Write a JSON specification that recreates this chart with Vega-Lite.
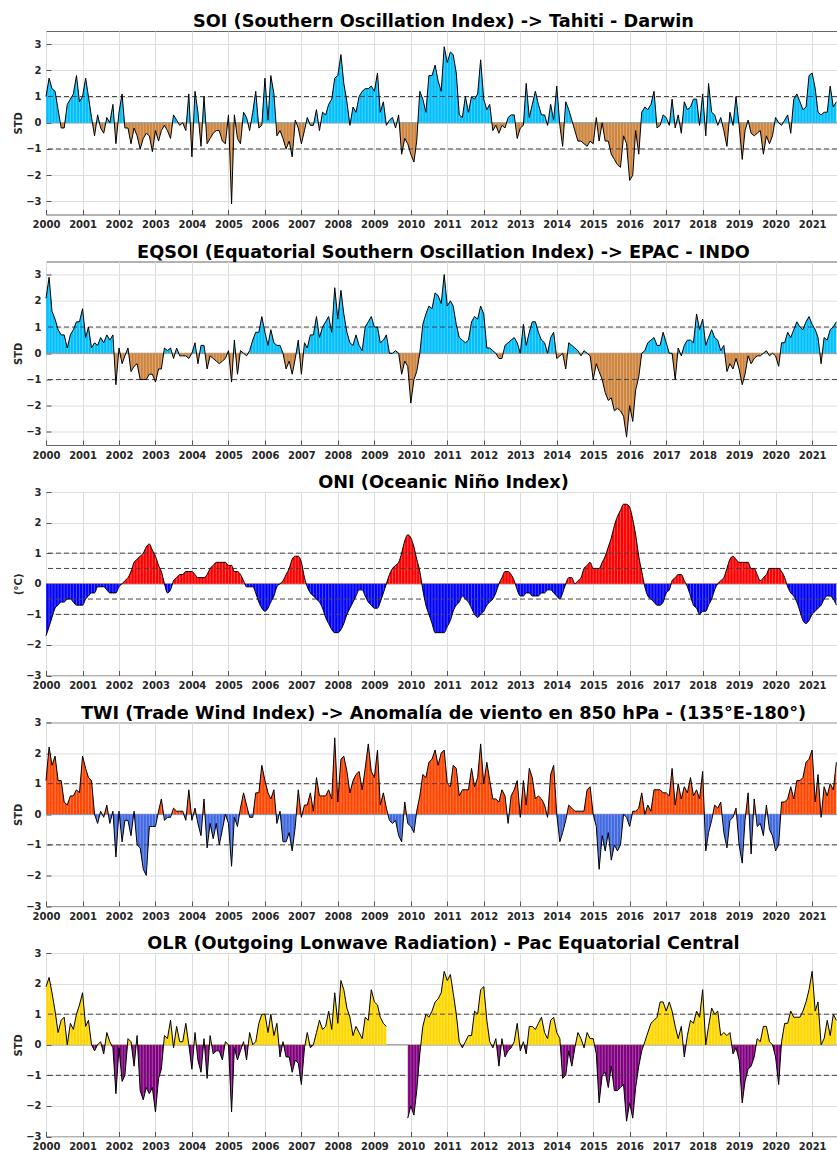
{
"$schema": "https://vega.github.io/schema/vega-lite/v6.json",
"background": "white",
"padding": {"left": 12, "top": 12, "right": 0, "bottom": 0},
"autosize": {"type": "pad"},
"data": {"values": [
{"fecha":"2000-01","soi":1.0,"eqsoi":2.1,"oni":-1.7,"twi":1.1,"olr":1.9},
{"fecha":"2000-02","soi":1.7,"eqsoi":2.9,"oni":-1.4,"twi":2.2,"olr":2.2},
{"fecha":"2000-03","soi":1.3,"eqsoi":1.6,"oni":-1.1,"twi":1.6,"olr":1.7},
{"fecha":"2000-04","soi":1.2,"eqsoi":1.3,"oni":-0.8,"twi":1.9,"olr":1.1},
{"fecha":"2000-05","soi":0.5,"eqsoi":0.9,"oni":-0.7,"twi":1.1,"olr":0.4},
{"fecha":"2000-06","soi":-0.2,"eqsoi":0.7,"oni":-0.6,"twi":1.1,"olr":0.8},
{"fecha":"2000-07","soi":-0.2,"eqsoi":0.7,"oni":-0.6,"twi":0.4,"olr":0.9},
{"fecha":"2000-08","soi":0.7,"eqsoi":0.2,"oni":-0.5,"twi":0.3,"olr":0.0},
{"fecha":"2000-09","soi":0.9,"eqsoi":0.7,"oni":-0.5,"twi":0.6,"olr":0.7},
{"fecha":"2000-10","soi":1.1,"eqsoi":0.9,"oni":-0.6,"twi":0.6,"olr":0.5},
{"fecha":"2000-11","soi":1.8,"eqsoi":1.2,"oni":-0.7,"twi":0.8,"olr":1.0},
{"fecha":"2000-12","soi":0.8,"eqsoi":1.2,"oni":-0.7,"twi":0.7,"olr":1.3},
{"fecha":"2001-01","soi":1.0,"eqsoi":1.7,"oni":-0.7,"twi":1.9,"olr":1.7},
{"fecha":"2001-02","soi":1.7,"eqsoi":0.6,"oni":-0.5,"twi":1.5,"olr":0.6},
{"fecha":"2001-03","soi":1.0,"eqsoi":1.0,"oni":-0.4,"twi":1.2,"olr":0.8},
{"fecha":"2001-04","soi":0.2,"eqsoi":0.2,"oni":-0.3,"twi":1.1,"olr":0.0},
{"fecha":"2001-05","soi":-0.5,"eqsoi":0.4,"oni":-0.3,"twi":0.0,"olr":-0.2},
{"fecha":"2001-06","soi":0.3,"eqsoi":0.3,"oni":-0.1,"twi":-0.3,"olr":0.0},
{"fecha":"2001-07","soi":-0.2,"eqsoi":0.6,"oni":-0.1,"twi":0.1,"olr":0.1},
{"fecha":"2001-08","soi":-0.4,"eqsoi":0.4,"oni":-0.1,"twi":-0.1,"olr":-0.3},
{"fecha":"2001-09","soi":0.2,"eqsoi":0.7,"oni":-0.2,"twi":0.3,"olr":0.4},
{"fecha":"2001-10","soi":0.0,"eqsoi":0.5,"oni":-0.3,"twi":-0.3,"olr":0.1},
{"fecha":"2001-11","soi":0.7,"eqsoi":0.7,"oni":-0.3,"twi":0.1,"olr":-0.1},
{"fecha":"2001-12","soi":-0.8,"eqsoi":-1.2,"oni":-0.3,"twi":-1.4,"olr":-1.6},
{"fecha":"2002-01","soi":0.4,"eqsoi":0.2,"oni":-0.1,"twi":0.1,"olr":-0.1},
{"fecha":"2002-02","soi":1.1,"eqsoi":-0.4,"oni":0.0,"twi":-0.9,"olr":-1.2},
{"fecha":"2002-03","soi":-0.2,"eqsoi":-0.1,"oni":0.1,"twi":-0.2,"olr":-1.0},
{"fecha":"2002-04","soi":-0.2,"eqsoi":0.2,"oni":0.2,"twi":-0.2,"olr":0.2},
{"fecha":"2002-05","soi":-0.8,"eqsoi":-0.7,"oni":0.4,"twi":-0.7,"olr":0.1},
{"fecha":"2002-06","soi":-0.2,"eqsoi":-0.5,"oni":0.7,"twi":0.1,"olr":-0.7},
{"fecha":"2002-07","soi":-0.5,"eqsoi":-0.4,"oni":0.8,"twi":-1.0,"olr":0.3},
{"fecha":"2002-08","soi":-1.0,"eqsoi":-1.0,"oni":0.9,"twi":-1.1,"olr":-1.5},
{"fecha":"2002-09","soi":-0.6,"eqsoi":-1.0,"oni":1.0,"twi":-1.8,"olr":-1.8},
{"fecha":"2002-10","soi":-0.4,"eqsoi":-1.0,"oni":1.2,"twi":-2.0,"olr":-1.4},
{"fecha":"2002-11","soi":-0.5,"eqsoi":-0.8,"oni":1.3,"twi":-0.4,"olr":-1.6},
{"fecha":"2002-12","soi":-1.1,"eqsoi":-0.8,"oni":1.1,"twi":-0.4,"olr":-1.4},
{"fecha":"2003-01","soi":-0.3,"eqsoi":-1.1,"oni":0.9,"twi":-0.4,"olr":-2.2},
{"fecha":"2003-02","soi":-0.7,"eqsoi":-0.6,"oni":0.6,"twi":0.1,"olr":-1.1},
{"fecha":"2003-03","soi":-0.3,"eqsoi":-0.6,"oni":0.4,"twi":0.5,"olr":-0.8},
{"fecha":"2003-04","soi":-0.1,"eqsoi":0.2,"oni":0.0,"twi":-0.2,"olr":0.3},
{"fecha":"2003-05","soi":-0.3,"eqsoi":0.1,"oni":-0.3,"twi":-0.1,"olr":0.2},
{"fecha":"2003-06","soi":-0.6,"eqsoi":0.2,"oni":-0.2,"twi":-0.1,"olr":0.8},
{"fecha":"2003-07","soi":0.3,"eqsoi":-0.2,"oni":0.1,"twi":0.2,"olr":-0.1},
{"fecha":"2003-08","soi":0.1,"eqsoi":0.2,"oni":0.2,"twi":0.1,"olr":0.6},
{"fecha":"2003-09","soi":-0.1,"eqsoi":-0.1,"oni":0.3,"twi":0.1,"olr":0.1},
{"fecha":"2003-10","soi":0.0,"eqsoi":-0.1,"oni":0.3,"twi":0.1,"olr":0.1},
{"fecha":"2003-11","soi":-0.3,"eqsoi":-0.1,"oni":0.4,"twi":-0.2,"olr":0.7},
{"fecha":"2003-12","soi":1.1,"eqsoi":-0.2,"oni":0.4,"twi":0.8,"olr":0.0},
{"fecha":"2004-01","soi":-1.3,"eqsoi":0.0,"oni":0.4,"twi":-0.2,"olr":-0.8},
{"fecha":"2004-02","soi":1.2,"eqsoi":0.4,"oni":0.3,"twi":0.2,"olr":0.4},
{"fecha":"2004-03","soi":0.4,"eqsoi":-0.4,"oni":0.2,"twi":-0.3,"olr":-0.5},
{"fecha":"2004-04","soi":-0.9,"eqsoi":0.3,"oni":0.2,"twi":-0.7,"olr":-0.9},
{"fecha":"2004-05","soi":1.0,"eqsoi":0.3,"oni":0.2,"twi":0.5,"olr":0.2},
{"fecha":"2004-06","soi":-0.8,"eqsoi":-0.6,"oni":0.3,"twi":-1.1,"olr":-1.1},
{"fecha":"2004-07","soi":-0.6,"eqsoi":-0.1,"oni":0.5,"twi":-0.3,"olr":0.3},
{"fecha":"2004-08","soi":-0.4,"eqsoi":-0.2,"oni":0.6,"twi":-0.8,"olr":-0.3},
{"fecha":"2004-09","soi":-0.3,"eqsoi":-0.3,"oni":0.7,"twi":-0.3,"olr":-0.2},
{"fecha":"2004-10","soi":-0.3,"eqsoi":-0.4,"oni":0.7,"twi":-1.0,"olr":-0.2},
{"fecha":"2004-11","soi":-0.7,"eqsoi":-0.3,"oni":0.7,"twi":-0.5,"olr":-0.5},
{"fecha":"2004-12","soi":-0.8,"eqsoi":-0.2,"oni":0.7,"twi":0.0,"olr":0.1},
{"fecha":"2005-01","soi":0.3,"eqsoi":0.1,"oni":0.6,"twi":-0.3,"olr":0.0},
{"fecha":"2005-02","soi":-3.1,"eqsoi":-1.1,"oni":0.6,"twi":-1.7,"olr":-2.2},
{"fecha":"2005-03","soi":0.3,"eqsoi":0.5,"oni":0.4,"twi":-0.1,"olr":-0.1},
{"fecha":"2005-04","soi":-0.6,"eqsoi":-0.8,"oni":0.4,"twi":-0.4,"olr":-0.5},
{"fecha":"2005-05","soi":-0.8,"eqsoi":0.1,"oni":0.3,"twi":0.2,"olr":-0.2},
{"fecha":"2005-06","soi":0.4,"eqsoi":0.0,"oni":0.1,"twi":0.7,"olr":0.1},
{"fecha":"2005-07","soi":0.2,"eqsoi":-0.1,"oni":-0.1,"twi":0.3,"olr":-0.5},
{"fecha":"2005-08","soi":-0.3,"eqsoi":0.1,"oni":-0.1,"twi":-0.1,"olr":0.4},
{"fecha":"2005-09","soi":0.4,"eqsoi":0.5,"oni":-0.1,"twi":-0.1,"olr":0.0},
{"fecha":"2005-10","soi":1.2,"eqsoi":0.8,"oni":-0.3,"twi":0.7,"olr":0.1},
{"fecha":"2005-11","soi":-0.2,"eqsoi":0.8,"oni":-0.6,"twi":0.7,"olr":0.7},
{"fecha":"2005-12","soi":-0.1,"eqsoi":1.4,"oni":-0.8,"twi":1.6,"olr":1.0},
{"fecha":"2006-01","soi":1.7,"eqsoi":0.8,"oni":-0.9,"twi":1.1,"olr":1.0},
{"fecha":"2006-02","soi":0.1,"eqsoi":0.3,"oni":-0.8,"twi":0.7,"olr":0.4},
{"fecha":"2006-03","soi":1.8,"eqsoi":0.9,"oni":-0.6,"twi":0.5,"olr":1.0},
{"fecha":"2006-04","soi":1.1,"eqsoi":0.4,"oni":-0.4,"twi":0.8,"olr":0.3},
{"fecha":"2006-05","soi":-0.5,"eqsoi":0.3,"oni":-0.1,"twi":-0.3,"olr":0.7},
{"fecha":"2006-06","soi":-0.3,"eqsoi":0.3,"oni":0.0,"twi":0.1,"olr":-0.4},
{"fecha":"2006-07","soi":-0.6,"eqsoi":0.0,"oni":0.1,"twi":-0.9,"olr":0.1},
{"fecha":"2006-08","soi":-1.0,"eqsoi":-0.6,"oni":0.3,"twi":-0.9,"olr":-0.4},
{"fecha":"2006-09","soi":-0.7,"eqsoi":-0.3,"oni":0.5,"twi":-0.6,"olr":-0.4},
{"fecha":"2006-10","soi":-1.3,"eqsoi":-0.8,"oni":0.8,"twi":-1.2,"olr":-0.9},
{"fecha":"2006-11","soi":0.1,"eqsoi":-0.2,"oni":0.9,"twi":-0.4,"olr":-0.5},
{"fecha":"2006-12","soi":-0.2,"eqsoi":0.5,"oni":0.9,"twi":0.8,"olr":-0.6},
{"fecha":"2007-01","soi":-0.8,"eqsoi":-0.8,"oni":0.7,"twi":-0.1,"olr":-1.3},
{"fecha":"2007-02","soi":-0.3,"eqsoi":0.4,"oni":0.2,"twi":0.3,"olr":-0.1},
{"fecha":"2007-03","soi":0.2,"eqsoi":0.2,"oni":-0.1,"twi":0.3,"olr":0.4},
{"fecha":"2007-04","soi":-0.1,"eqsoi":0.7,"oni":-0.3,"twi":0.7,"olr":-0.1},
{"fecha":"2007-05","soi":-0.1,"eqsoi":0.7,"oni":-0.4,"twi":0.1,"olr":0.0},
{"fecha":"2007-06","soi":0.5,"eqsoi":1.4,"oni":-0.5,"twi":1.2,"olr":0.4},
{"fecha":"2007-07","soi":-0.3,"eqsoi":0.6,"oni":-0.6,"twi":0.6,"olr":0.8},
{"fecha":"2007-08","soi":0.4,"eqsoi":1.0,"oni":-0.8,"twi":0.6,"olr":0.5},
{"fecha":"2007-09","soi":0.3,"eqsoi":1.2,"oni":-1.1,"twi":0.6,"olr":0.6},
{"fecha":"2007-10","soi":0.7,"eqsoi":1.4,"oni":-1.3,"twi":0.8,"olr":1.1},
{"fecha":"2007-11","soi":0.9,"eqsoi":0.8,"oni":-1.5,"twi":0.5,"olr":0.5},
{"fecha":"2007-12","soi":1.7,"eqsoi":2.5,"oni":-1.6,"twi":2.5,"olr":1.7},
{"fecha":"2008-01","soi":1.8,"eqsoi":1.3,"oni":-1.6,"twi":0.4,"olr":0.7},
{"fecha":"2008-02","soi":2.6,"eqsoi":2.4,"oni":-1.5,"twi":1.8,"olr":2.1},
{"fecha":"2008-03","soi":1.5,"eqsoi":1.5,"oni":-1.3,"twi":1.9,"olr":1.8},
{"fecha":"2008-04","soi":0.8,"eqsoi":0.8,"oni":-1.0,"twi":1.4,"olr":1.2},
{"fecha":"2008-05","soi":-0.1,"eqsoi":0.4,"oni":-0.8,"twi":0.7,"olr":0.9},
{"fecha":"2008-06","soi":0.6,"eqsoi":0.3,"oni":-0.6,"twi":1.1,"olr":0.3},
{"fecha":"2008-07","soi":0.4,"eqsoi":0.7,"oni":-0.4,"twi":1.3,"olr":0.6},
{"fecha":"2008-08","soi":1.0,"eqsoi":0.3,"oni":-0.2,"twi":1.4,"olr":0.4},
{"fecha":"2008-09","soi":1.2,"eqsoi":0.1,"oni":-0.2,"twi":0.8,"olr":0.2},
{"fecha":"2008-10","soi":1.3,"eqsoi":1.0,"oni":-0.4,"twi":1.5,"olr":0.9},
{"fecha":"2008-11","soi":1.3,"eqsoi":1.2,"oni":-0.6,"twi":2.3,"olr":0.8},
{"fecha":"2008-12","soi":1.4,"eqsoi":1.4,"oni":-0.7,"twi":1.4,"olr":1.8},
{"fecha":"2009-01","soi":1.2,"eqsoi":1.0,"oni":-0.8,"twi":1.2,"olr":1.4},
{"fecha":"2009-02","soi":1.9,"eqsoi":1.0,"oni":-0.8,"twi":2.1,"olr":1.3},
{"fecha":"2009-03","soi":0.4,"eqsoi":0.4,"oni":-0.6,"twi":0.3,"olr":0.9},
{"fecha":"2009-04","soi":0.8,"eqsoi":0.5,"oni":-0.3,"twi":0.7,"olr":0.7},
{"fecha":"2009-05","soi":-0.1,"eqsoi":0.7,"oni":0.0,"twi":0.2,"olr":0.6},
{"fecha":"2009-06","soi":0.1,"eqsoi":0.0,"oni":0.3,"twi":-0.2,"olr":null},
{"fecha":"2009-07","soi":0.2,"eqsoi":0.0,"oni":0.5,"twi":-0.3,"olr":null},
{"fecha":"2009-08","soi":-0.2,"eqsoi":0.1,"oni":0.6,"twi":-0.2,"olr":null},
{"fecha":"2009-09","soi":0.3,"eqsoi":0.0,"oni":0.7,"twi":-0.7,"olr":null},
{"fecha":"2009-10","soi":-1.2,"eqsoi":-0.8,"oni":1.0,"twi":-0.9,"olr":null},
{"fecha":"2009-11","soi":-0.6,"eqsoi":-0.3,"oni":1.4,"twi":0.4,"olr":null},
{"fecha":"2009-12","soi":-0.8,"eqsoi":-0.5,"oni":1.6,"twi":-0.3,"olr":-2.4},
{"fecha":"2010-01","soi":-1.2,"eqsoi":-1.9,"oni":1.5,"twi":-0.4,"olr":-2.0},
{"fecha":"2010-02","soi":-1.5,"eqsoi":-1.0,"oni":1.2,"twi":-0.6,"olr":-2.3},
{"fecha":"2010-03","soi":-0.7,"eqsoi":-0.7,"oni":0.8,"twi":0.1,"olr":-1.5},
{"fecha":"2010-04","soi":1.2,"eqsoi":0.0,"oni":0.4,"twi":0.6,"olr":-0.3},
{"fecha":"2010-05","soi":0.9,"eqsoi":1.1,"oni":-0.2,"twi":1.3,"olr":0.6},
{"fecha":"2010-06","soi":0.4,"eqsoi":1.5,"oni":-0.7,"twi":1.2,"olr":1.0},
{"fecha":"2010-07","soi":1.8,"eqsoi":1.8,"oni":-1.0,"twi":1.7,"olr":0.9},
{"fecha":"2010-08","soi":1.8,"eqsoi":1.7,"oni":-1.3,"twi":1.8,"olr":1.1},
{"fecha":"2010-09","soi":2.2,"eqsoi":2.3,"oni":-1.6,"twi":2.1,"olr":1.4},
{"fecha":"2010-10","soi":1.6,"eqsoi":2.2,"oni":-1.6,"twi":1.6,"olr":1.5},
{"fecha":"2010-11","soi":1.2,"eqsoi":1.9,"oni":-1.6,"twi":2.0,"olr":1.7},
{"fecha":"2010-12","soi":2.9,"eqsoi":3.0,"oni":-1.6,"twi":2.1,"olr":2.4},
{"fecha":"2011-01","soi":2.3,"eqsoi":1.8,"oni":-1.4,"twi":1.0,"olr":2.1},
{"fecha":"2011-02","soi":2.7,"eqsoi":2.0,"oni":-1.2,"twi":0.9,"olr":2.3},
{"fecha":"2011-03","soi":2.6,"eqsoi":1.8,"oni":-0.9,"twi":1.6,"olr":1.7},
{"fecha":"2011-04","soi":1.9,"eqsoi":1.1,"oni":-0.7,"twi":1.5,"olr":1.0},
{"fecha":"2011-05","soi":0.3,"eqsoi":0.6,"oni":-0.6,"twi":0.6,"olr":0.1},
{"fecha":"2011-06","soi":0.2,"eqsoi":0.5,"oni":-0.4,"twi":0.8,"olr":-0.1},
{"fecha":"2011-07","soi":1.0,"eqsoi":0.4,"oni":-0.5,"twi":0.8,"olr":0.1},
{"fecha":"2011-08","soi":0.4,"eqsoi":0.5,"oni":-0.6,"twi":0.8,"olr":0.3},
{"fecha":"2011-09","soi":1.0,"eqsoi":1.2,"oni":-0.8,"twi":1.5,"olr":0.3},
{"fecha":"2011-10","soi":0.9,"eqsoi":1.4,"oni":-1.0,"twi":0.9,"olr":1.1},
{"fecha":"2011-11","soi":1.1,"eqsoi":1.3,"oni":-1.1,"twi":1.2,"olr":1.0},
{"fecha":"2011-12","soi":2.4,"eqsoi":1.8,"oni":-1.0,"twi":2.3,"olr":1.8},
{"fecha":"2012-01","soi":0.9,"eqsoi":1.5,"oni":-0.9,"twi":1.0,"olr":1.9},
{"fecha":"2012-02","soi":0.5,"eqsoi":0.2,"oni":-0.7,"twi":1.7,"olr":0.8},
{"fecha":"2012-03","soi":0.7,"eqsoi":0.2,"oni":-0.6,"twi":1.1,"olr":0.1},
{"fecha":"2012-04","soi":-0.3,"eqsoi":0.1,"oni":-0.5,"twi":0.5,"olr":-0.1},
{"fecha":"2012-05","soi":-0.1,"eqsoi":0.0,"oni":-0.3,"twi":0.5,"olr":0.2},
{"fecha":"2012-06","soi":-0.4,"eqsoi":-0.2,"oni":0.0,"twi":0.4,"olr":-0.7},
{"fecha":"2012-07","soi":-0.1,"eqsoi":-0.2,"oni":0.2,"twi":0.8,"olr":0.2},
{"fecha":"2012-08","soi":-0.2,"eqsoi":0.3,"oni":0.4,"twi":0.6,"olr":-0.4},
{"fecha":"2012-09","soi":0.2,"eqsoi":0.4,"oni":0.4,"twi":-0.3,"olr":-0.2},
{"fecha":"2012-10","soi":0.3,"eqsoi":0.5,"oni":0.3,"twi":0.6,"olr":-0.1},
{"fecha":"2012-11","soi":0.3,"eqsoi":0.6,"oni":0.1,"twi":0.8,"olr":0.1},
{"fecha":"2012-12","soi":-0.6,"eqsoi":0.4,"oni":-0.2,"twi":1.1,"olr":0.7},
{"fecha":"2013-01","soi":-0.2,"eqsoi":0.0,"oni":-0.4,"twi":-0.1,"olr":-0.2},
{"fecha":"2013-02","soi":-0.1,"eqsoi":1.1,"oni":-0.4,"twi":1.1,"olr":0.1},
{"fecha":"2013-03","soi":1.5,"eqsoi":0.3,"oni":-0.3,"twi":0.3,"olr":-0.3},
{"fecha":"2013-04","soi":0.2,"eqsoi":0.8,"oni":-0.3,"twi":1.5,"olr":0.6},
{"fecha":"2013-05","soi":0.7,"eqsoi":1.2,"oni":-0.4,"twi":1.2,"olr":0.6},
{"fecha":"2013-06","soi":1.2,"eqsoi":1.2,"oni":-0.4,"twi":0.5,"olr":0.5},
{"fecha":"2013-07","soi":0.7,"eqsoi":0.8,"oni":-0.4,"twi":0.6,"olr":0.7},
{"fecha":"2013-08","soi":0.3,"eqsoi":0.5,"oni":-0.3,"twi":0.5,"olr":0.9},
{"fecha":"2013-09","soi":0.3,"eqsoi":0.4,"oni":-0.3,"twi":0.3,"olr":0.4},
{"fecha":"2013-10","soi":-0.1,"eqsoi":0.0,"oni":-0.2,"twi":-0.1,"olr":0.2},
{"fecha":"2013-11","soi":0.7,"eqsoi":0.6,"oni":-0.2,"twi":1.3,"olr":0.8},
{"fecha":"2013-12","soi":0.1,"eqsoi":0.8,"oni":-0.3,"twi":1.6,"olr":0.9},
{"fecha":"2014-01","soi":1.4,"eqsoi":-0.2,"oni":-0.4,"twi":0.0,"olr":0.4},
{"fecha":"2014-02","soi":-0.1,"eqsoi":-0.1,"oni":-0.5,"twi":-0.9,"olr":0.2},
{"fecha":"2014-03","soi":-0.9,"eqsoi":0.0,"oni":-0.3,"twi":-0.6,"olr":-1.1},
{"fecha":"2014-04","soi":0.8,"eqsoi":-0.6,"oni":0.0,"twi":-0.2,"olr":-1.0},
{"fecha":"2014-05","soi":0.5,"eqsoi":0.4,"oni":0.2,"twi":0.3,"olr":-0.2},
{"fecha":"2014-06","soi":0.1,"eqsoi":0.3,"oni":0.2,"twi":0.2,"olr":-0.7},
{"fecha":"2014-07","soi":-0.3,"eqsoi":0.2,"oni":0.0,"twi":0.1,"olr":-0.1},
{"fecha":"2014-08","soi":-0.7,"eqsoi":0.1,"oni":0.1,"twi":0.1,"olr":0.4},
{"fecha":"2014-09","soi":-0.7,"eqsoi":-0.1,"oni":0.2,"twi":0.1,"olr":0.2},
{"fecha":"2014-10","soi":-0.8,"eqsoi":0.1,"oni":0.5,"twi":0.1,"olr":-0.1},
{"fecha":"2014-11","soi":-0.9,"eqsoi":0.0,"oni":0.6,"twi":0.8,"olr":0.4},
{"fecha":"2014-12","soi":-0.7,"eqsoi":-0.1,"oni":0.7,"twi":0.9,"olr":0.2},
{"fecha":"2015-01","soi":-0.8,"eqsoi":-1.0,"oni":0.5,"twi":0.0,"olr":0.2},
{"fecha":"2015-02","soi":0.2,"eqsoi":-0.4,"oni":0.5,"twi":-0.4,"olr":-0.3},
{"fecha":"2015-03","soi":-0.7,"eqsoi":-0.7,"oni":0.5,"twi":-1.8,"olr":-1.9},
{"fecha":"2015-04","soi":0.0,"eqsoi":-1.0,"oni":0.7,"twi":-0.7,"olr":-1.0},
{"fecha":"2015-05","soi":-0.7,"eqsoi":-1.5,"oni":0.9,"twi":-1.2,"olr":-0.9},
{"fecha":"2015-06","soi":-0.7,"eqsoi":-1.8,"oni":1.2,"twi":-0.6,"olr":-1.4},
{"fecha":"2015-07","soi":-1.2,"eqsoi":-1.7,"oni":1.5,"twi":-1.5,"olr":-0.7},
{"fecha":"2015-08","soi":-1.4,"eqsoi":-2.2,"oni":1.9,"twi":-1.0,"olr":-1.5},
{"fecha":"2015-09","soi":-1.6,"eqsoi":-2.1,"oni":2.2,"twi":-1.2,"olr":-1.5},
{"fecha":"2015-10","soi":-1.7,"eqsoi":-2.2,"oni":2.4,"twi":-1.0,"olr":-1.4},
{"fecha":"2015-11","soi":-0.5,"eqsoi":-2.4,"oni":2.6,"twi":0.0,"olr":-1.3},
{"fecha":"2015-12","soi":-0.8,"eqsoi":-3.2,"oni":2.6,"twi":-0.1,"olr":-2.5},
{"fecha":"2016-01","soi":-2.2,"eqsoi":-2.0,"oni":2.5,"twi":-0.4,"olr":-1.9},
{"fecha":"2016-02","soi":-2.0,"eqsoi":-2.6,"oni":2.1,"twi":0.1,"olr":-2.4},
{"fecha":"2016-03","soi":-0.3,"eqsoi":-1.4,"oni":1.6,"twi":0.1,"olr":-1.4},
{"fecha":"2016-04","soi":-1.2,"eqsoi":-0.9,"oni":0.9,"twi":0.2,"olr":-0.7},
{"fecha":"2016-05","soi":0.4,"eqsoi":0.0,"oni":0.4,"twi":0.7,"olr":-0.2},
{"fecha":"2016-06","soi":0.6,"eqsoi":0.1,"oni":-0.1,"twi":0.0,"olr":0.1},
{"fecha":"2016-07","soi":0.5,"eqsoi":0.4,"oni":-0.4,"twi":0.3,"olr":0.4},
{"fecha":"2016-08","soi":0.7,"eqsoi":0.5,"oni":-0.5,"twi":0.1,"olr":0.7},
{"fecha":"2016-09","soi":1.2,"eqsoi":0.6,"oni":-0.6,"twi":0.8,"olr":0.8},
{"fecha":"2016-10","soi":-0.2,"eqsoi":0.3,"oni":-0.7,"twi":0.8,"olr":0.9},
{"fecha":"2016-11","soi":-0.1,"eqsoi":0.3,"oni":-0.7,"twi":0.8,"olr":1.4},
{"fecha":"2016-12","soi":0.3,"eqsoi":0.8,"oni":-0.6,"twi":0.7,"olr":1.4},
{"fecha":"2017-01","soi":0.2,"eqsoi":0.4,"oni":-0.3,"twi":0.7,"olr":1.1},
{"fecha":"2017-02","soi":-0.1,"eqsoi":0.0,"oni":-0.2,"twi":0.6,"olr":1.4},
{"fecha":"2017-03","soi":0.9,"eqsoi":0.0,"oni":0.1,"twi":1.5,"olr":1.1},
{"fecha":"2017-04","soi":-0.2,"eqsoi":-1.0,"oni":0.2,"twi":0.3,"olr":0.6},
{"fecha":"2017-05","soi":0.3,"eqsoi":0.2,"oni":0.3,"twi":1.0,"olr":0.2},
{"fecha":"2017-06","soi":-0.4,"eqsoi":-0.1,"oni":0.3,"twi":0.5,"olr":0.6},
{"fecha":"2017-07","soi":0.8,"eqsoi":0.3,"oni":0.1,"twi":0.9,"olr":-0.4},
{"fecha":"2017-08","soi":0.5,"eqsoi":0.5,"oni":-0.1,"twi":0.7,"olr":0.3},
{"fecha":"2017-09","soi":0.6,"eqsoi":0.5,"oni":-0.4,"twi":1.2,"olr":0.8},
{"fecha":"2017-10","soi":0.9,"eqsoi":0.4,"oni":-0.7,"twi":0.6,"olr":0.7},
{"fecha":"2017-11","soi":0.9,"eqsoi":1.5,"oni":-0.8,"twi":0.8,"olr":1.1},
{"fecha":"2017-12","soi":-0.1,"eqsoi":0.9,"oni":-1.0,"twi":0.5,"olr":0.9},
{"fecha":"2018-01","soi":1.1,"eqsoi":1.3,"oni":-0.9,"twi":1.4,"olr":1.8},
{"fecha":"2018-02","soi":-0.5,"eqsoi":0.3,"oni":-0.9,"twi":-1.2,"olr":0.0},
{"fecha":"2018-03","soi":1.5,"eqsoi":0.6,"oni":-0.7,"twi":-0.6,"olr":0.6},
{"fecha":"2018-04","soi":0.4,"eqsoi":0.9,"oni":-0.5,"twi":-0.2,"olr":1.2},
{"fecha":"2018-05","soi":0.3,"eqsoi":0.6,"oni":-0.2,"twi":0.3,"olr":1.0},
{"fecha":"2018-06","soi":-0.1,"eqsoi":0.5,"oni":0.0,"twi":0.2,"olr":1.1},
{"fecha":"2018-07","soi":0.2,"eqsoi":0.1,"oni":0.1,"twi":0.4,"olr":0.3},
{"fecha":"2018-08","soi":-0.3,"eqsoi":0.3,"oni":0.2,"twi":-0.6,"olr":0.4},
{"fecha":"2018-09","soi":-0.9,"eqsoi":-0.7,"oni":0.5,"twi":-1.1,"olr":0.3},
{"fecha":"2018-10","soi":0.4,"eqsoi":-0.4,"oni":0.8,"twi":-0.2,"olr":0.4},
{"fecha":"2018-11","soi":-0.1,"eqsoi":-0.6,"oni":0.9,"twi":-0.1,"olr":-0.3},
{"fecha":"2018-12","soi":1.0,"eqsoi":-0.2,"oni":0.8,"twi":0.2,"olr":-0.1},
{"fecha":"2019-01","soi":-0.1,"eqsoi":-0.6,"oni":0.7,"twi":-1.0,"olr":-0.5},
{"fecha":"2019-02","soi":-1.4,"eqsoi":-1.2,"oni":0.7,"twi":-1.6,"olr":-1.9},
{"fecha":"2019-03","soi":-0.3,"eqsoi":-0.8,"oni":0.7,"twi":-0.2,"olr":-1.2},
{"fecha":"2019-04","soi":0.1,"eqsoi":-0.1,"oni":0.7,"twi":0.7,"olr":-0.8},
{"fecha":"2019-05","soi":-0.4,"eqsoi":-0.4,"oni":0.5,"twi":-1.3,"olr":-0.7},
{"fecha":"2019-06","soi":-0.5,"eqsoi":-0.2,"oni":0.5,"twi":0.5,"olr":-0.4},
{"fecha":"2019-07","soi":-0.4,"eqsoi":-0.1,"oni":0.3,"twi":-0.4,"olr":0.2},
{"fecha":"2019-08","soi":-0.3,"eqsoi":-0.1,"oni":0.1,"twi":-0.3,"olr":0.1},
{"fecha":"2019-09","soi":-1.2,"eqsoi":0.0,"oni":0.2,"twi":-0.7,"olr":0.6},
{"fecha":"2019-10","soi":-0.5,"eqsoi":0.1,"oni":0.3,"twi":0.3,"olr":0.6},
{"fecha":"2019-11","soi":-0.8,"eqsoi":-0.1,"oni":0.5,"twi":-0.5,"olr":0.1},
{"fecha":"2019-12","soi":-0.5,"eqsoi":0.0,"oni":0.5,"twi":-0.7,"olr":0.0},
{"fecha":"2020-01","soi":0.2,"eqsoi":-0.1,"oni":0.5,"twi":-1.2,"olr":-0.4},
{"fecha":"2020-02","soi":0.0,"eqsoi":-0.5,"oni":0.5,"twi":-1.0,"olr":-1.3},
{"fecha":"2020-03","soi":-0.1,"eqsoi":0.4,"oni":0.4,"twi":0.4,"olr":0.1},
{"fecha":"2020-04","soi":0.1,"eqsoi":0.4,"oni":0.2,"twi":0.4,"olr":0.7},
{"fecha":"2020-05","soi":0.3,"eqsoi":0.8,"oni":-0.1,"twi":0.5,"olr":0.7},
{"fecha":"2020-06","soi":-0.4,"eqsoi":0.6,"oni":-0.3,"twi":0.9,"olr":1.1},
{"fecha":"2020-07","soi":0.9,"eqsoi":0.9,"oni":-0.4,"twi":0.5,"olr":0.9},
{"fecha":"2020-08","soi":1.1,"eqsoi":1.2,"oni":-0.6,"twi":1.1,"olr":0.9},
{"fecha":"2020-09","soi":0.8,"eqsoi":1.0,"oni":-0.9,"twi":1.1,"olr":0.9},
{"fecha":"2020-10","soi":0.5,"eqsoi":0.9,"oni":-1.2,"twi":1.2,"olr":1.1},
{"fecha":"2020-11","soi":0.6,"eqsoi":1.2,"oni":-1.3,"twi":1.7,"olr":1.4},
{"fecha":"2020-12","soi":1.8,"eqsoi":1.4,"oni":-1.2,"twi":1.8,"olr":1.8},
{"fecha":"2021-01","soi":1.9,"eqsoi":1.1,"oni":-1.0,"twi":2.1,"olr":2.4},
{"fecha":"2021-02","soi":1.3,"eqsoi":0.9,"oni":-0.9,"twi":0.4,"olr":1.1},
{"fecha":"2021-03","soi":0.4,"eqsoi":0.6,"oni":-0.8,"twi":1.3,"olr":1.4},
{"fecha":"2021-04","soi":0.3,"eqsoi":-0.4,"oni":-0.7,"twi":-0.1,"olr":0.0},
{"fecha":"2021-05","soi":0.4,"eqsoi":0.6,"oni":-0.5,"twi":0.9,"olr":0.2},
{"fecha":"2021-06","soi":0.4,"eqsoi":0.5,"oni":-0.4,"twi":0.6,"olr":0.8},
{"fecha":"2021-07","soi":1.4,"eqsoi":0.9,"oni":-0.4,"twi":1.0,"olr":0.3},
{"fecha":"2021-08","soi":0.6,"eqsoi":1.0,"oni":-0.5,"twi":0.8,"olr":1.0},
{"fecha":"2021-09","soi":0.8,"eqsoi":1.2,"oni":-0.7,"twi":1.7,"olr":0.8}
]},
"vconcat": [
{
"title": {"text": "SOI (Southern Oscillation Index) -> Tahiti - Darwin", "dy": 4},
"width": 791, "height": 183.5,
"layer": [
{"data": {"values": [{"h": 0}]}, "mark": {"type": "rule", "color": "#8c8c8c", "strokeWidth": 1}, "encoding": {"y": {"field": "h", "type": "quantitative", "scale": {"domain": [-3.5, 3.5], "nice": false, "zero": false}, "axis": {"title": "STD", "values": [-3, -2, -1, 0, 1, 2, 3]}}}},
{"mark": {"type": "area", "opacity": 1, "fill": {"gradient": "linear", "x1": 0, "y1": 0, "x2": 0, "y2": 1, "stops": [{"offset": 0, "color": "#00BFFF"}, {"offset": 0.48333, "color": "#00BFFF"}, {"offset": 0.48333, "color": "#CD853F"}, {"offset": 1, "color": "#CD853F"}]}},
 "encoding": {
  "x": {"field": "fecha", "type": "temporal", "scale": {"type": "utc", "domain": [{"year": 2000, "month": 1, "date": 1, "utc": true}, {"year": 2021, "month": 9, "date": 7, "utc": true}]}, "axis": {"title": null, "format": "%Y", "formatType": "utc", "tickCount": {"interval": "year", "step": 1}, "labelFlush": false, "labelOverlap": false}},
  "y": {"field": "soi", "type": "quantitative", "scale": {"domain": [-3.5, 3.5], "nice": false, "zero": false}, "axis": {"title": "STD", "values": [-3, -2, -1, 0, 1, 2, 3]}},
  "y2": {"datum": 0}}},
{"mark": {"type": "rule", "color": "white", "strokeWidth": 0.5, "opacity": 0.6},
 "encoding": {
  "x": {"field": "fecha", "type": "temporal", "scale": {"type": "utc", "domain": [{"year": 2000, "month": 1, "date": 1, "utc": true}, {"year": 2021, "month": 9, "date": 7, "utc": true}]}, "axis": {"title": null, "format": "%Y", "formatType": "utc", "tickCount": {"interval": "year", "step": 1}, "labelFlush": false, "labelOverlap": false}},
  "y": {"field": "soi", "type": "quantitative", "scale": {"domain": [-3.5, 3.5], "nice": false, "zero": false}, "axis": {"title": "STD", "values": [-3, -2, -1, 0, 1, 2, 3]}},
  "y2": {"datum": 0}}},
{"data": {"values": [{"h": 1}, {"h": -1}]}, "mark": {"type": "rule", "color": "#444444", "strokeWidth": 1, "strokeDash": [5, 3]}, "encoding": {"y": {"field": "h", "type": "quantitative", "scale": {"domain": [-3.5, 3.5], "nice": false, "zero": false}, "axis": {"title": "STD", "values": [-3, -2, -1, 0, 1, 2, 3]}}}},
{"mark": {"type": "line", "color": "#000000", "strokeWidth": 1},
 "encoding": {
  "x": {"field": "fecha", "type": "temporal", "scale": {"type": "utc", "domain": [{"year": 2000, "month": 1, "date": 1, "utc": true}, {"year": 2021, "month": 9, "date": 7, "utc": true}]}, "axis": {"title": null, "format": "%Y", "formatType": "utc", "tickCount": {"interval": "year", "step": 1}, "labelFlush": false, "labelOverlap": false}},
  "y": {"field": "soi", "type": "quantitative", "scale": {"domain": [-3.5, 3.5], "nice": false, "zero": false}, "axis": {"title": "STD", "values": [-3, -2, -1, 0, 1, 2, 3]}}}}
]
},
{
"title": {"text": "EQSOI (Equatorial Southern Oscillation Index) -> EPAC - INDO", "dy": 4},
"width": 791, "height": 183.5,
"layer": [
{"data": {"values": [{"h": 0}]}, "mark": {"type": "rule", "color": "#8c8c8c", "strokeWidth": 1}, "encoding": {"y": {"field": "h", "type": "quantitative", "scale": {"domain": [-3.5, 3.5], "nice": false, "zero": false}, "axis": {"title": "STD", "values": [-3, -2, -1, 0, 1, 2, 3]}}}},
{"mark": {"type": "area", "opacity": 1, "fill": {"gradient": "linear", "x1": 0, "y1": 0, "x2": 0, "y2": 1, "stops": [{"offset": 0, "color": "#00BFFF"}, {"offset": 0.48387, "color": "#00BFFF"}, {"offset": 0.48387, "color": "#CD853F"}, {"offset": 1, "color": "#CD853F"}]}},
 "encoding": {
  "x": {"field": "fecha", "type": "temporal", "scale": {"type": "utc", "domain": [{"year": 2000, "month": 1, "date": 1, "utc": true}, {"year": 2021, "month": 9, "date": 7, "utc": true}]}, "axis": {"title": null, "format": "%Y", "formatType": "utc", "tickCount": {"interval": "year", "step": 1}, "labelFlush": false, "labelOverlap": false}},
  "y": {"field": "eqsoi", "type": "quantitative", "scale": {"domain": [-3.5, 3.5], "nice": false, "zero": false}, "axis": {"title": "STD", "values": [-3, -2, -1, 0, 1, 2, 3]}},
  "y2": {"datum": 0}}},
{"mark": {"type": "rule", "color": "white", "strokeWidth": 0.5, "opacity": 0.6},
 "encoding": {
  "x": {"field": "fecha", "type": "temporal", "scale": {"type": "utc", "domain": [{"year": 2000, "month": 1, "date": 1, "utc": true}, {"year": 2021, "month": 9, "date": 7, "utc": true}]}, "axis": {"title": null, "format": "%Y", "formatType": "utc", "tickCount": {"interval": "year", "step": 1}, "labelFlush": false, "labelOverlap": false}},
  "y": {"field": "eqsoi", "type": "quantitative", "scale": {"domain": [-3.5, 3.5], "nice": false, "zero": false}, "axis": {"title": "STD", "values": [-3, -2, -1, 0, 1, 2, 3]}},
  "y2": {"datum": 0}}},
{"data": {"values": [{"h": 1}, {"h": -1}]}, "mark": {"type": "rule", "color": "#444444", "strokeWidth": 1, "strokeDash": [5, 3]}, "encoding": {"y": {"field": "h", "type": "quantitative", "scale": {"domain": [-3.5, 3.5], "nice": false, "zero": false}, "axis": {"title": "STD", "values": [-3, -2, -1, 0, 1, 2, 3]}}}},
{"mark": {"type": "line", "color": "#000000", "strokeWidth": 1},
 "encoding": {
  "x": {"field": "fecha", "type": "temporal", "scale": {"type": "utc", "domain": [{"year": 2000, "month": 1, "date": 1, "utc": true}, {"year": 2021, "month": 9, "date": 7, "utc": true}]}, "axis": {"title": null, "format": "%Y", "formatType": "utc", "tickCount": {"interval": "year", "step": 1}, "labelFlush": false, "labelOverlap": false}},
  "y": {"field": "eqsoi", "type": "quantitative", "scale": {"domain": [-3.5, 3.5], "nice": false, "zero": false}, "axis": {"title": "STD", "values": [-3, -2, -1, 0, 1, 2, 3]}}}}
]
},
{
"title": {"text": "ONI (Oceanic Niño Index)", "dy": 9},
"width": 791, "height": 183.5,
"layer": [
{"data": {"values": [{"h": 0}]}, "mark": {"type": "rule", "color": "#8c8c8c", "strokeWidth": 1}, "encoding": {"y": {"field": "h", "type": "quantitative", "scale": {"domain": [-3, 3], "nice": false, "zero": false}, "axis": {"title": "(°C)", "values": [-3, -2, -1, 0, 1, 2, 3]}}}},
{"mark": {"type": "area", "opacity": 1, "interpolate": "monotone", "fill": {"gradient": "linear", "x1": 0, "y1": 0, "x2": 0, "y2": 1, "stops": [{"offset": 0, "color": "#FF0000"}, {"offset": 0.60465, "color": "#FF0000"}, {"offset": 0.60465, "color": "#0000FF"}, {"offset": 1, "color": "#0000FF"}]}},
 "encoding": {
  "x": {"field": "fecha", "type": "temporal", "scale": {"type": "utc", "domain": [{"year": 2000, "month": 1, "date": 1, "utc": true}, {"year": 2021, "month": 9, "date": 7, "utc": true}]}, "axis": {"title": null, "format": "%Y", "formatType": "utc", "tickCount": {"interval": "year", "step": 1}, "labelFlush": false, "labelOverlap": false}},
  "y": {"field": "oni", "type": "quantitative", "scale": {"domain": [-3, 3], "nice": false, "zero": false}, "axis": {"title": "(°C)", "values": [-3, -2, -1, 0, 1, 2, 3]}},
  "y2": {"datum": 0}}},
{"mark": {"type": "rule", "color": "white", "strokeWidth": 0.5, "opacity": 0.6},
 "encoding": {
  "x": {"field": "fecha", "type": "temporal", "scale": {"type": "utc", "domain": [{"year": 2000, "month": 1, "date": 1, "utc": true}, {"year": 2021, "month": 9, "date": 7, "utc": true}]}, "axis": {"title": null, "format": "%Y", "formatType": "utc", "tickCount": {"interval": "year", "step": 1}, "labelFlush": false, "labelOverlap": false}},
  "y": {"field": "oni", "type": "quantitative", "scale": {"domain": [-3, 3], "nice": false, "zero": false}, "axis": {"title": "(°C)", "values": [-3, -2, -1, 0, 1, 2, 3]}},
  "y2": {"datum": 0}}},
{"data": {"values": [{"h": 1}, {"h": 0.5}, {"h": -0.5}, {"h": -1}]}, "mark": {"type": "rule", "color": "#444444", "strokeWidth": 1, "strokeDash": [5, 3]}, "encoding": {"y": {"field": "h", "type": "quantitative", "scale": {"domain": [-3, 3], "nice": false, "zero": false}, "axis": {"title": "(°C)", "values": [-3, -2, -1, 0, 1, 2, 3]}}}},
{"mark": {"type": "line", "color": "#000000", "strokeWidth": 1, "interpolate": "monotone"},
 "encoding": {
  "x": {"field": "fecha", "type": "temporal", "scale": {"type": "utc", "domain": [{"year": 2000, "month": 1, "date": 1, "utc": true}, {"year": 2021, "month": 9, "date": 7, "utc": true}]}, "axis": {"title": null, "format": "%Y", "formatType": "utc", "tickCount": {"interval": "year", "step": 1}, "labelFlush": false, "labelOverlap": false}},
  "y": {"field": "oni", "type": "quantitative", "scale": {"domain": [-3, 3], "nice": false, "zero": false}, "axis": {"title": "(°C)", "values": [-3, -2, -1, 0, 1, 2, 3]}}}}
]
},
{
"title": {"text": "TWI (Trade Wind Index) -> Anomalía de viento en 850 hPa - (135°E-180°)", "dy": 9},
"width": 791, "height": 183.5,
"layer": [
{"data": {"values": [{"h": 0}]}, "mark": {"type": "rule", "color": "#8c8c8c", "strokeWidth": 1}, "encoding": {"y": {"field": "h", "type": "quantitative", "scale": {"domain": [-3, 3], "nice": false, "zero": false}, "axis": {"title": "STD", "values": [-3, -2, -1, 0, 1, 2, 3]}}}},
{"mark": {"type": "area", "opacity": 1, "fill": {"gradient": "linear", "x1": 0, "y1": 0, "x2": 0, "y2": 1, "stops": [{"offset": 0, "color": "#FF4500"}, {"offset": 0.55556, "color": "#FF4500"}, {"offset": 0.55556, "color": "#4169E1"}, {"offset": 1, "color": "#4169E1"}]}},
 "encoding": {
  "x": {"field": "fecha", "type": "temporal", "scale": {"type": "utc", "domain": [{"year": 2000, "month": 1, "date": 1, "utc": true}, {"year": 2021, "month": 9, "date": 7, "utc": true}]}, "axis": {"title": null, "format": "%Y", "formatType": "utc", "tickCount": {"interval": "year", "step": 1}, "labelFlush": false, "labelOverlap": false}},
  "y": {"field": "twi", "type": "quantitative", "scale": {"domain": [-3, 3], "nice": false, "zero": false}, "axis": {"title": "STD", "values": [-3, -2, -1, 0, 1, 2, 3]}},
  "y2": {"datum": 0}}},
{"mark": {"type": "rule", "color": "white", "strokeWidth": 0.5, "opacity": 0.6},
 "encoding": {
  "x": {"field": "fecha", "type": "temporal", "scale": {"type": "utc", "domain": [{"year": 2000, "month": 1, "date": 1, "utc": true}, {"year": 2021, "month": 9, "date": 7, "utc": true}]}, "axis": {"title": null, "format": "%Y", "formatType": "utc", "tickCount": {"interval": "year", "step": 1}, "labelFlush": false, "labelOverlap": false}},
  "y": {"field": "twi", "type": "quantitative", "scale": {"domain": [-3, 3], "nice": false, "zero": false}, "axis": {"title": "STD", "values": [-3, -2, -1, 0, 1, 2, 3]}},
  "y2": {"datum": 0}}},
{"data": {"values": [{"h": 1}, {"h": -1}]}, "mark": {"type": "rule", "color": "#444444", "strokeWidth": 1, "strokeDash": [5, 3]}, "encoding": {"y": {"field": "h", "type": "quantitative", "scale": {"domain": [-3, 3], "nice": false, "zero": false}, "axis": {"title": "STD", "values": [-3, -2, -1, 0, 1, 2, 3]}}}},
{"mark": {"type": "line", "color": "#000000", "strokeWidth": 1},
 "encoding": {
  "x": {"field": "fecha", "type": "temporal", "scale": {"type": "utc", "domain": [{"year": 2000, "month": 1, "date": 1, "utc": true}, {"year": 2021, "month": 9, "date": 7, "utc": true}]}, "axis": {"title": null, "format": "%Y", "formatType": "utc", "tickCount": {"interval": "year", "step": 1}, "labelFlush": false, "labelOverlap": false}},
  "y": {"field": "twi", "type": "quantitative", "scale": {"domain": [-3, 3], "nice": false, "zero": false}, "axis": {"title": "STD", "values": [-3, -2, -1, 0, 1, 2, 3]}}}}
]
},
{
"title": {"text": "OLR (Outgoing Lonwave Radiation) - Pac Equatorial Central", "dy": 9},
"width": 791, "height": 183.5,
"layer": [
{"data": {"values": [{"h": 0}]}, "mark": {"type": "rule", "color": "#8c8c8c", "strokeWidth": 1}, "encoding": {"y": {"field": "h", "type": "quantitative", "scale": {"domain": [-3, 3], "nice": false, "zero": false}, "axis": {"title": "STD", "values": [-3, -2, -1, 0, 1, 2, 3]}}}},
{"mark": {"type": "area", "opacity": 1, "invalid": "break-paths-filter-domains", "fill": {"gradient": "linear", "x1": 0, "y1": 0, "x2": 0, "y2": 1, "stops": [{"offset": 0, "color": "#FFD700"}, {"offset": 0.4898, "color": "#FFD700"}, {"offset": 0.4898, "color": "#800080"}, {"offset": 1, "color": "#800080"}]}},
 "encoding": {
  "x": {"field": "fecha", "type": "temporal", "scale": {"type": "utc", "domain": [{"year": 2000, "month": 1, "date": 1, "utc": true}, {"year": 2021, "month": 9, "date": 7, "utc": true}]}, "axis": {"title": null, "format": "%Y", "formatType": "utc", "tickCount": {"interval": "year", "step": 1}, "labelFlush": false, "labelOverlap": false}},
  "y": {"field": "olr", "type": "quantitative", "scale": {"domain": [-3, 3], "nice": false, "zero": false}, "axis": {"title": "STD", "values": [-3, -2, -1, 0, 1, 2, 3]}},
  "y2": {"datum": 0}}},
{"mark": {"type": "rule", "color": "white", "strokeWidth": 0.5, "opacity": 0.6},
 "encoding": {
  "x": {"field": "fecha", "type": "temporal", "scale": {"type": "utc", "domain": [{"year": 2000, "month": 1, "date": 1, "utc": true}, {"year": 2021, "month": 9, "date": 7, "utc": true}]}, "axis": {"title": null, "format": "%Y", "formatType": "utc", "tickCount": {"interval": "year", "step": 1}, "labelFlush": false, "labelOverlap": false}},
  "y": {"field": "olr", "type": "quantitative", "scale": {"domain": [-3, 3], "nice": false, "zero": false}, "axis": {"title": "STD", "values": [-3, -2, -1, 0, 1, 2, 3]}},
  "y2": {"datum": 0}}},
{"data": {"values": [{"h": 1}, {"h": -1}]}, "mark": {"type": "rule", "color": "#444444", "strokeWidth": 1, "strokeDash": [5, 3]}, "encoding": {"y": {"field": "h", "type": "quantitative", "scale": {"domain": [-3, 3], "nice": false, "zero": false}, "axis": {"title": "STD", "values": [-3, -2, -1, 0, 1, 2, 3]}}}},
{"mark": {"type": "line", "color": "#000000", "strokeWidth": 1, "invalid": "break-paths-filter-domains"},
 "encoding": {
  "x": {"field": "fecha", "type": "temporal", "scale": {"type": "utc", "domain": [{"year": 2000, "month": 1, "date": 1, "utc": true}, {"year": 2021, "month": 9, "date": 7, "utc": true}]}, "axis": {"title": null, "format": "%Y", "formatType": "utc", "tickCount": {"interval": "year", "step": 1}, "labelFlush": false, "labelOverlap": false}},
  "y": {"field": "olr", "type": "quantitative", "scale": {"domain": [-3, 3], "nice": false, "zero": false}, "axis": {"title": "STD", "values": [-3, -2, -1, 0, 1, 2, 3]}}}}
]
}
],
"spacing": 46.5,
"bounds": "flush",
"config": {
 "font": "DejaVu Sans",
 "view": {"stroke": "#666666", "strokeWidth": 1},
 "title": {"font": "DejaVu Sans", "fontSize": 17.7, "fontWeight": "bold", "color": "#000000", "anchor": "middle", "frame": "group", "offset": 4, "baseline": "alphabetic", "dx": 2},
 "axis": {"labelFont": "DejaVu Sans", "labelFontSize": 10, "labelFontWeight": "bold", "labelColor": "#262626", "titleFont": "DejaVu Sans", "titleFontSize": 10, "titleFontWeight": "bold", "titleColor": "#262626", "domain": false, "ticks": true, "tickColor": "#555555", "tickSize": -5, "labelPadding": 10, "grid": true, "gridColor": "#dddddd", "gridWidth": 1},
 "axisY": {"minExtent": 18, "maxExtent": 18, "titlePadding": 5},
 "axisX": {"labelFlush": false, "labelPadding": 10}
}
}
